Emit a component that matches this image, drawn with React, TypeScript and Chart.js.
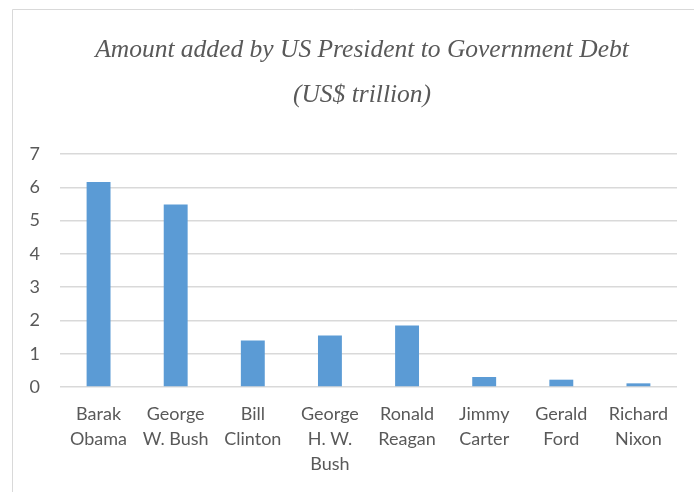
import React, { useEffect, useRef } from "react";
import { Chart, registerables } from "chart.js";

Chart.register(...registerables);

const titleLines = ["Amount added by US President to Government Debt", "(US$ trillion)"];
const presidents: string[][] = [
  ["Barak", "Obama"],
  ["George", "W. Bush"],
  ["Bill", "Clinton"],
  ["George", "H. W.", "Bush"],
  ["Ronald", "Reagan"],
  ["Jimmy", "Carter"],
  ["Gerald", "Ford"],
  ["Richard", "Nixon"],
];
const debtAdded = [6.16, 5.48, 1.4, 1.55, 1.85, 0.3, 0.22, 0.11];
const yMin = 0;
const yMax = 7;
const yStep = 1;

const TEXT = "#595959";
const GRID = "#d9d9d9";
const BAR = "#5b9bd5";

const framePlugin = {
  id: "frameAndTitle",
  beforeDraw(chart: any) {
    const { ctx, width, height } = chart;
    ctx.save();
    ctx.fillStyle = "#ffffff";
    ctx.fillRect(0, 0, width, height);
    ctx.strokeStyle = GRID;
    ctx.lineWidth = 1;
    ctx.beginPath();
    ctx.moveTo(12.5, height + 2);
    ctx.lineTo(12.5, 9.5);
    ctx.lineTo(width + 2, 9.5);
    ctx.stroke();
    ctx.fillStyle = TEXT;
    ctx.font = 'italic 25.5px "Liberation Serif"';
    ctx.textAlign = "center";
    ctx.textBaseline = "alphabetic";
    ctx.fillText(titleLines[0], 362, 57);
    ctx.fillText(titleLines[1], 362, 102);
    ctx.restore();
  },
};

export default function App() {
  const ref = useRef<HTMLCanvasElement | null>(null);
  useEffect(() => {
    if (!ref.current) return;
    const chart = new Chart(ref.current, {
      type: "bar",
      data: {
        labels: presidents,
        datasets: [
          {
            data: debtAdded,
            backgroundColor: BAR,
            barPercentage: 0.31,
            categoryPercentage: 1,
          },
        ],
      },
      options: {
        animation: false,
        responsive: false,
        maintainAspectRatio: false,
        layout: { padding: { left: 0, right: 17, top: 154, bottom: 0 } },
        plugins: {
          legend: { display: false },
          title: { display: false },
          tooltip: { enabled: false },
        },
        scales: {
          x: {
            grid: { display: false, drawTicks: false },
            border: { display: false },
            ticks: {
              color: TEXT,
              font: { family: "Lato", size: 18, lineHeight: 1.39 },
              padding: 15,
              maxRotation: 0,
              autoSkip: false,
            },
            afterFit(scale: any) {
              scale.height = 105;
            },
          },
          y: {
            min: yMin,
            max: yMax,
            grid: { color: GRID, lineWidth: 1.5, drawTicks: false },
            border: { display: false },
            ticks: {
              stepSize: yStep,
              color: TEXT,
              font: { family: "Lato", size: 18 },
              padding: 20,
            },
            afterFit(scale: any) {
              scale.width = 60;
            },
          },
        },
      },
      plugins: [framePlugin],
    });
    return () => chart.destroy();
  }, []);
  return (
    <div style={{ position: "fixed", left: 0, top: 0, width: 694, height: 492, background: "#fff" }}>
      <canvas ref={ref} width={694} height={492} style={{ display: "block" }} />
    </div>
  );
}
